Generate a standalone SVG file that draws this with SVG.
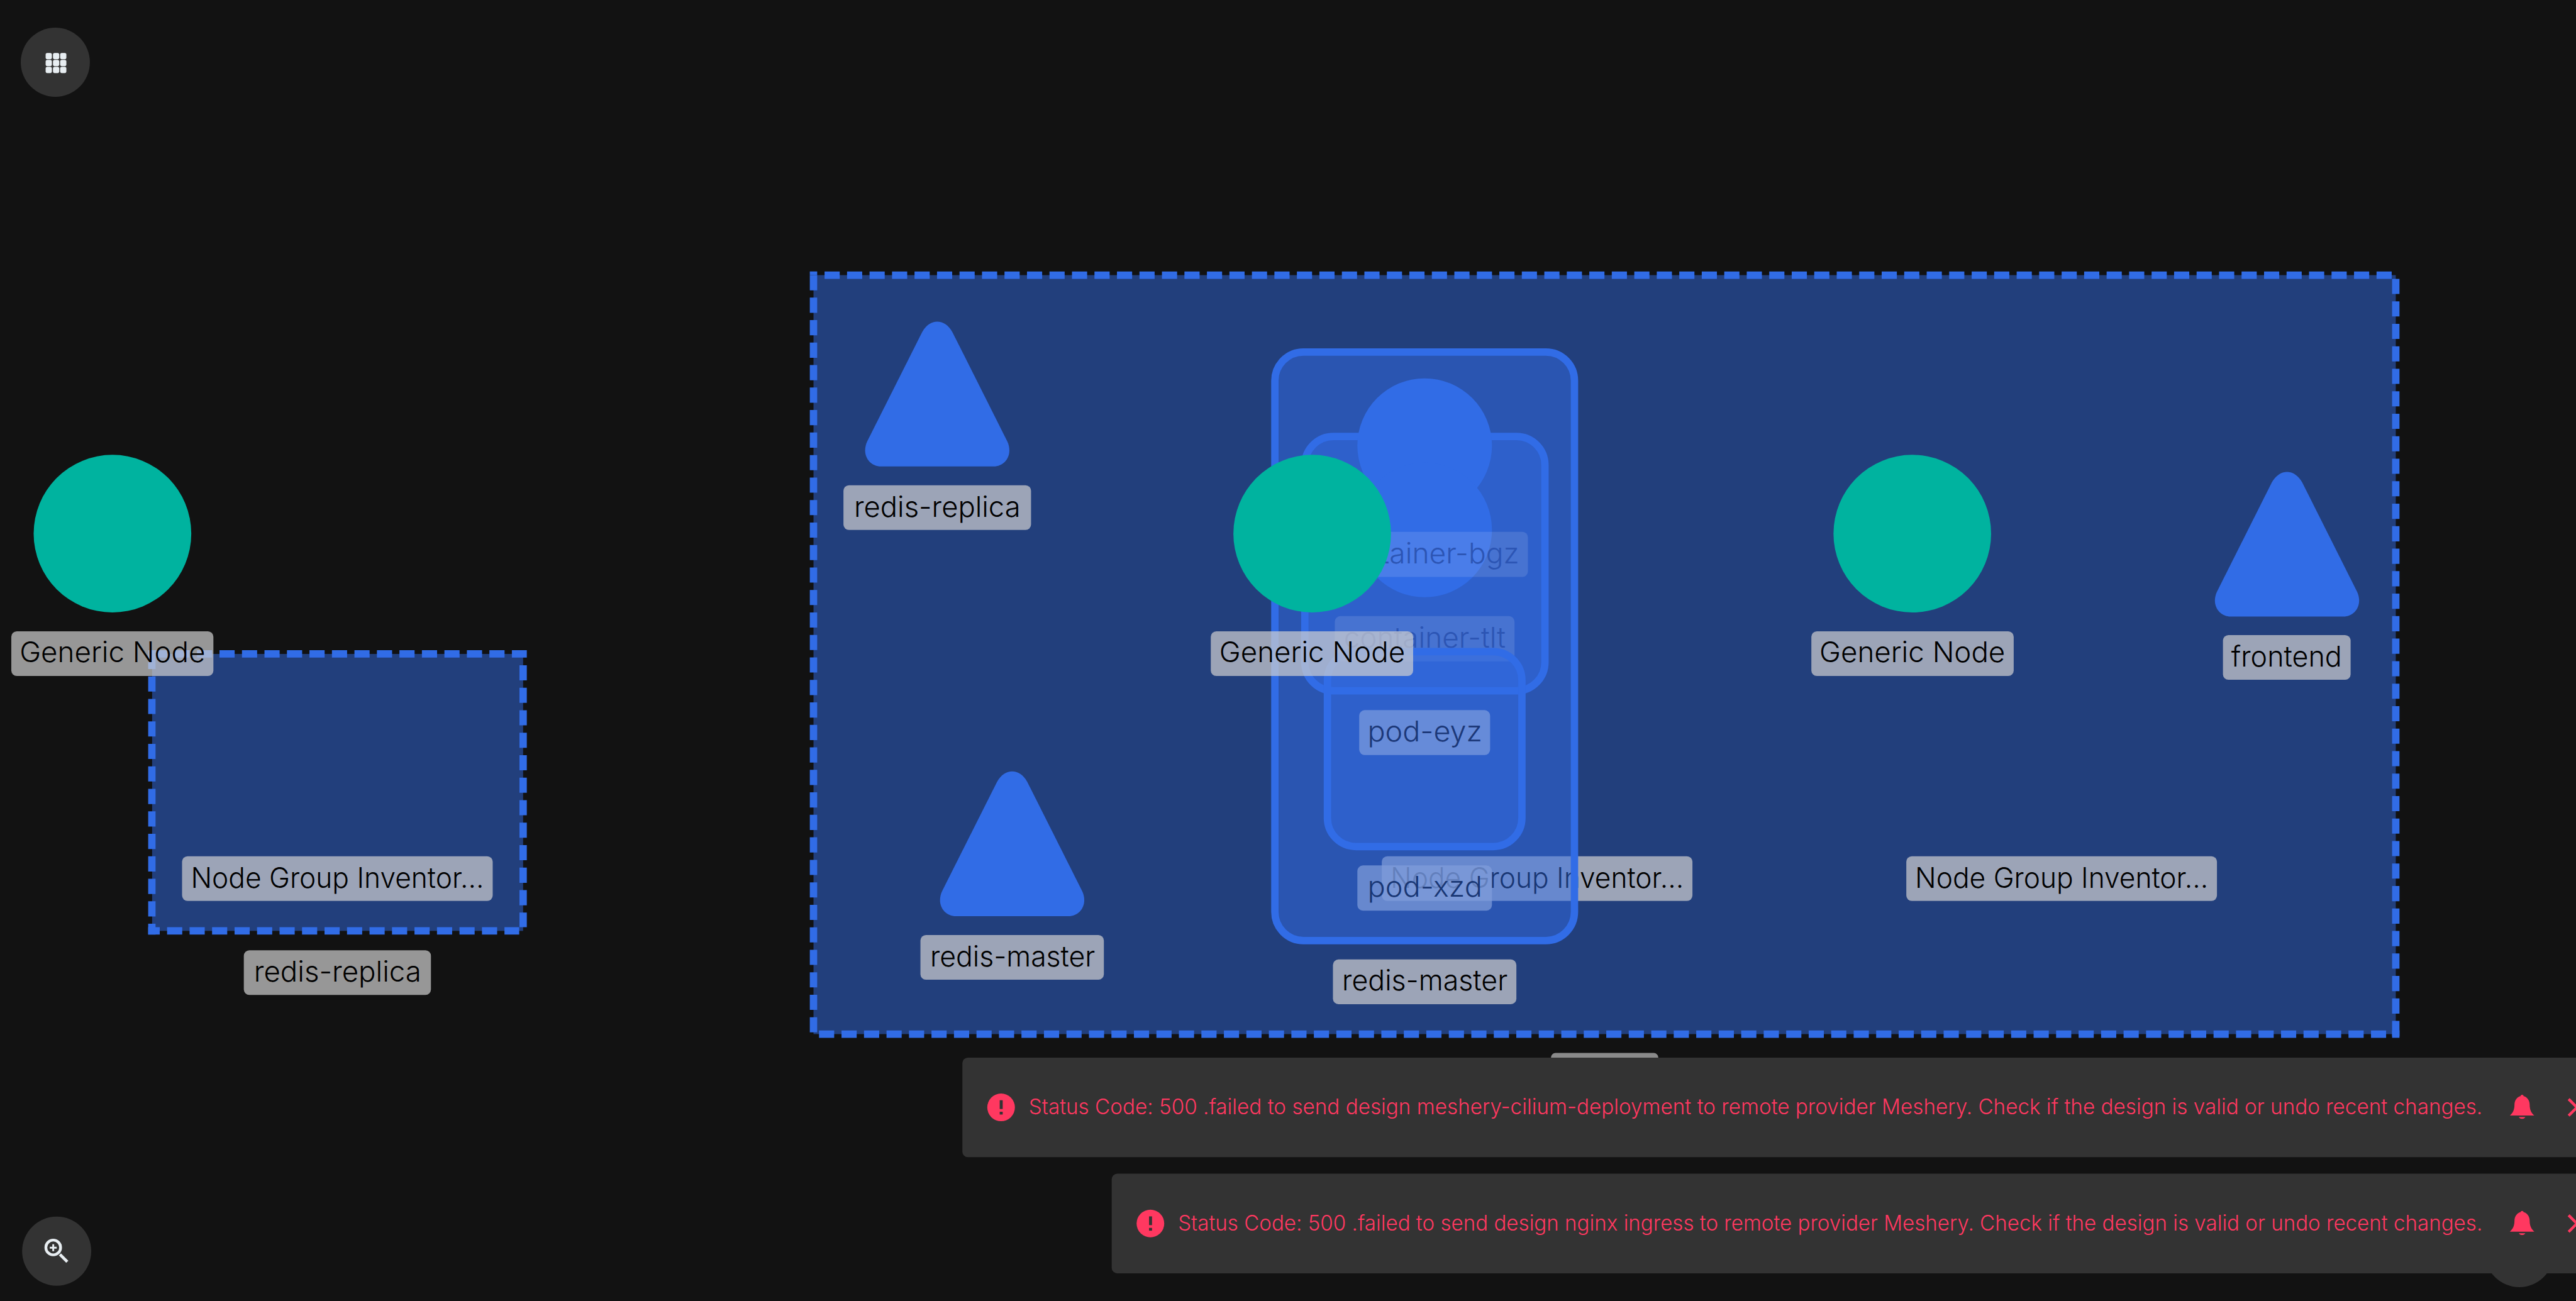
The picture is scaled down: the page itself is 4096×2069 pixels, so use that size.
<svg xmlns="http://www.w3.org/2000/svg" width="4096" height="2069" viewBox="0 0 4096 2069">
<style>
.lb{fill:#d0d0d0;fill-opacity:.7}
.t{font-family:Inter,"Noto Sans",sans-serif;font-weight:300;font-size:62px;fill:#000;text-anchor:middle}
.gf{fill:#316ce6;fill-opacity:.5;stroke:none}
.rr{fill:#316ce6;fill-opacity:.5;stroke:#316ce6;stroke-width:16}
.d{stroke:#316ce6;stroke-width:16;fill:none;stroke-dasharray:32.9 15.9}
.b{fill:#316ce6}
.teal{fill:#00b39f}
.toast{fill:#333}
.msg{font-family:Inter,"Noto Sans",sans-serif;font-weight:300;font-size:47px;fill:#ff3860}
.red{fill:#ff3860}
.ic{fill:#e8eef2}
</style>
<defs>
<path id="tri" d="M-33,23 C-24,7 -12,0 0,0 C12,0 24,7 33,23 L152,260 C165,288 148,314 122,314 L-122,314 C-148,314 -165,288 -152,260 Z"/>
<path id="bell" d="M-26.5,17.7 C-20,12 -16.5,5 -16.5,-6 C-16.5,-16 -10,-23 -3.5,-24.5 A3.6 3.6 0 0 1 3.5,-24.5 C10,-23 16.5,-16 16.5,-6 C16.5,5 20,12 26.5,17.7 Z M-7,21 H7 A7.5 6 0 0 1 -7,21 Z"/>
</defs>
<rect width="4096" height="2069" fill="#121212"/>
<g transform="scale(.73287)">
<g id="group-redis-replica">
<rect class="gf" x="330" y="1419" width="805" height="601"/>
<path class="d" d="M329.8,1419H1143"/>
<path class="d" d="M329.5,1419V2028"/>
<path class="d" d="M1135,1443.5V2012"/>
<path class="d" stroke-dashoffset="7.8" d="M321.5,2020H1126.5"/>
<rect class="b" x="321.5" y="1411" width="16" height="8"/>
<rect class="lb" x="395" y="1858" width="674" height="97" rx="12"/>
<text class="t" x="732" y="1926" textLength="636" lengthAdjust="spacingAndGlyphs">Node Group Inventor...</text>
<rect class="lb" x="529" y="2062" width="406" height="97" rx="12"/>
<text class="t" x="732.5" y="2130" textLength="363" lengthAdjust="spacingAndGlyphs">redis-replica</text>
</g>
<g id="generic-node-left">
<circle class="teal" cx="244" cy="1158" r="171"/>
<rect class="lb" x="24.5" y="1370" width="438.5" height="97" rx="12"/>
<text class="t" x="244" y="1437" textLength="403" lengthAdjust="spacingAndGlyphs">Generic Node</text>
</g>
<g id="group-main">
<rect class="gf" x="1765" y="597" width="3433" height="1647"/>
<path class="d" d="M1789,597H5190"/>
<path class="d" d="M1765,597V2240"/>
<path class="d" d="M5198,605V2252"/>
<path class="d" d="M1777,2244H5177"/>
<rect class="b" x="1757" y="589" width="16" height="8"/>
<rect class="b" x="5190" y="2236" width="16" height="16"/>
</g>
<g id="redis-replica"><use href="#tri" class="b" x="2033.5" y="698"/>
<rect class="lb" x="1830" y="1053" width="407" height="97" rx="12"/>
<text class="t" x="2033.5" y="1121" textLength="361" lengthAdjust="spacingAndGlyphs">redis-replica</text></g>
<g id="redis-master"><use href="#tri" class="b" x="2196" y="1674"/>
<rect class="lb" x="1997" y="2029" width="398" height="97" rx="12"/>
<text class="t" x="2197" y="2097" textLength="358" lengthAdjust="spacingAndGlyphs">redis-master</text></g>
<g id="frontend"><use href="#tri" class="b" x="4962" y="1024"/>
<rect class="lb" x="4823" y="1378" width="277" height="97" rx="12"/>
<text class="t" x="4961" y="1446" textLength="240" lengthAdjust="spacingAndGlyphs">frontend</text></g>
<g id="node-group-right">
<rect class="lb" x="4136" y="1858" width="674" height="97" rx="12"/>
<text class="t" x="4473" y="1926" textLength="636" lengthAdjust="spacingAndGlyphs">Node Group Inventor...</text></g>
<g id="node-group-middle">
<rect class="lb" x="2998" y="1858" width="674" height="97" rx="12"/>
<text class="t" x="3335" y="1926" textLength="636" lengthAdjust="spacingAndGlyphs">Node Group Inventor...</text></g>
<g id="pod-xzd-label">
<rect class="lb" x="2945" y="1878" width="292" height="98" rx="12"/>
<text class="t" x="3091.5" y="1946" textLength="249" lengthAdjust="spacingAndGlyphs">pod-xzd</text></g>
<g id="deployment-redis-master">
<rect class="rr" x="2766" y="764" width="650" height="1277" rx="62"/>
<rect class="lb" x="2892" y="2082" width="398" height="97" rx="12"/>
<text class="t" x="3091.5" y="2149" textLength="359" lengthAdjust="spacingAndGlyphs">redis-master</text></g>
<g id="container-outer">
<rect class="rr" x="2831" y="947" width="521" height="552" rx="62"/></g>
<g id="container-bgz">
<circle class="b" cx="3091" cy="967" r="146"/>
<circle class="b" cx="3091" cy="1150" r="146"/>
<rect fill="#fff" fill-opacity=".12" x="2867" y="1154" width="448" height="98" rx="12"/>
<text class="t" style="fill:#2c55b4" x="3091" y="1222" textLength="410" lengthAdjust="spacingAndGlyphs">container-bgz</text></g>
<g id="container-tlt">
<rect fill="#fff" fill-opacity=".12" x="2896" y="1337" width="390" height="98" rx="12"/>
<text class="t" style="fill:#2c55b4" x="3091" y="1405" textLength="351" lengthAdjust="spacingAndGlyphs">container-tlt</text></g>
<g id="pod-eyz">
<rect class="rr" x="2880" y="1414" width="422" height="423" rx="62"/>
<rect fill="#fff" fill-opacity=".27" x="2949" y="1541" width="284" height="97.5" rx="12"/>
<text class="t" style="fill:#1c3878" x="3091.5" y="1609" textLength="249" lengthAdjust="spacingAndGlyphs">pod-eyz</text></g>
<g id="generic-node-middle">
<circle class="teal" cx="2847" cy="1158" r="171"/>
<rect class="lb" x="2627" y="1370" width="439" height="97" rx="12"/>
<text class="t" x="2847" y="1437" textLength="403" lengthAdjust="spacingAndGlyphs">Generic Node</text></g>
<g id="generic-node-right">
<circle class="teal" cx="4149" cy="1158" r="171"/>
<rect class="lb" x="3930" y="1370" width="439" height="97" rx="12"/>
<text class="t" x="4149" y="1437" textLength="403" lengthAdjust="spacingAndGlyphs">Generic Node</text></g>
<g id="connectors"/>
<g id="hidden-label"><rect x="3365" y="2285" width="233" height="30" rx="10" fill="#8a8a8a"/></g>
<g id="button-bottom-right"><circle cx="5466" cy="2718" r="75" fill="#333"/></g>
<g id="toast-1">
<rect class="toast" x="2088" y="2295" width="3600" height="216" rx="12"/>
<circle class="red" cx="2172" cy="2403" r="30"/>
<rect class="toast" x="2169" y="2387.5" width="6.5" height="19"/><rect class="toast" x="2169" y="2412.5" width="6.5" height="6"/>
<text class="msg" x="2232" y="2418" textLength="3154" lengthAdjust="spacingAndGlyphs">Status Code: 500 .failed to send design meshery-cilium-deployment to remote provider Meshery. Check if the design is valid or undo recent changes.</text>
<use href="#bell" class="red" x="5472" y="2403"/>
<path d="M5573,2385L5609,2421M5573,2421L5609,2385" stroke="#ff3860" stroke-width="6" fill="none"/>
</g>
<g id="toast-2">
<rect class="toast" x="2412" y="2547" width="3300" height="216" rx="12"/>
<circle class="red" cx="2496" cy="2655" r="30"/>
<rect class="toast" x="2493" y="2639.5" width="6.5" height="19"/><rect class="toast" x="2493" y="2664.5" width="6.5" height="6"/>
<text class="msg" x="2556" y="2670" textLength="2830" lengthAdjust="spacingAndGlyphs">Status Code: 500 .failed to send design nginx ingress to remote provider Meshery. Check if the design is valid or undo recent changes.</text>
<use href="#bell" class="red" x="5472" y="2655"/>
<path d="M5573,2637L5609,2673M5573,2673L5609,2637" stroke="#ff3860" stroke-width="6" fill="none"/>
</g>
<g id="button-top-left">
<circle cx="120" cy="135" r="75" fill="#333"/>
<g class="ic">
<rect x="99" y="115" width="13.5" height="13.5" rx="3.5"/><rect x="115" y="115" width="13.5" height="13.5" rx="3.5"/><rect x="130.500" y="115" width="13.5" height="13.5" rx="3.500"/>
<rect x="99" y="130" width="13.5" height="13.5" rx="3.5"/><rect x="115" y="130" width="13.5" height="13.5" rx="3.5"/><rect x="130.500" y="130" width="13.5" height="13.5" rx="3.500"/>
<rect x="99" y="145" width="13.5" height="13.5" rx="3.5"/><rect x="115" y="145" width="13.5" height="13.5" rx="3.5"/><rect x="130.500" y="145" width="13.5" height="13.5" rx="3.500"/>
</g></g>
<g id="button-zoom">
<circle cx="123" cy="2715" r="75" fill="#333"/>
<circle cx="115.500" cy="2707" r="16" fill="none" stroke="#e8eef2" stroke-width="6"/>
<path d="M130,2722L146,2738" stroke="#e8eef2" stroke-width="6.500" fill="none"/>
<path d="M108,2707.500H123M115.500,2700V2715" stroke="#e8eef2" stroke-width="4" fill="none"/>
</g>
</g>
</svg>
